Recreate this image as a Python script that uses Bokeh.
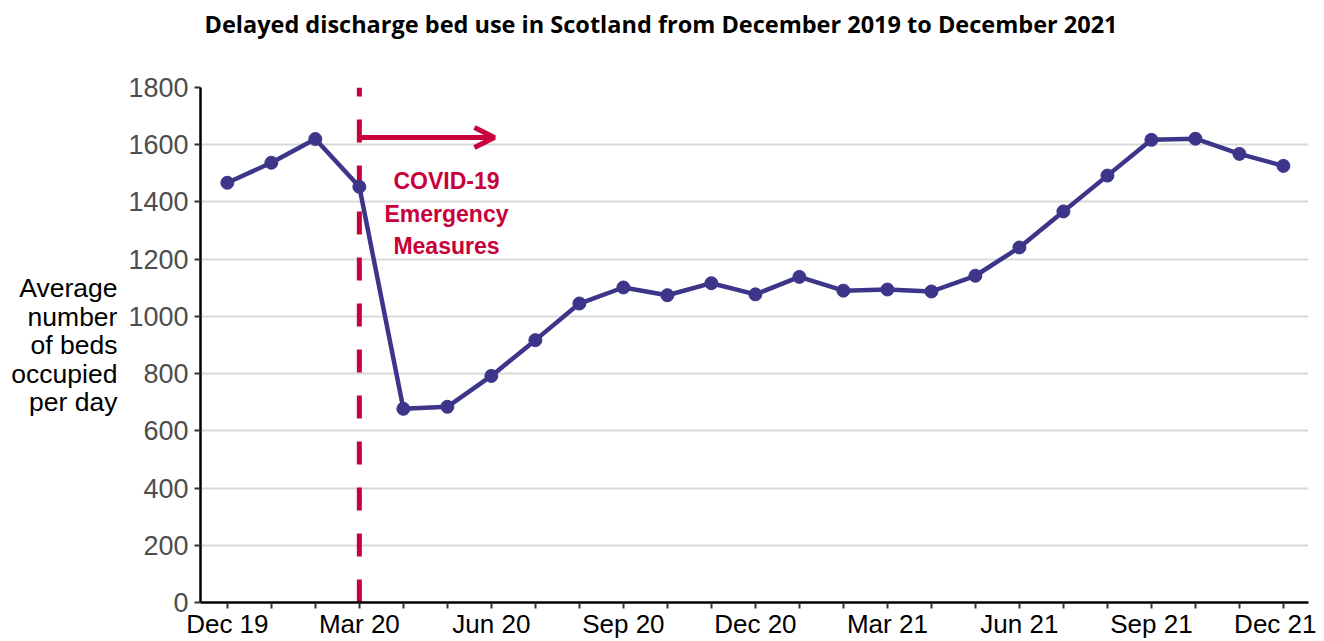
from bokeh.plotting import figure
from bokeh.models import FixedTicker, Arrow, OpenHead, Range1d, Title
from bokeh.core.properties import value
from bokeh.embed import file_html
from bokeh.resources import INLINE

months = ["Dec 19", "Jan 20", "Feb 20", "Mar 20", "Apr 20", "May 20", "Jun 20", "Jul 20",
          "Aug 20", "Sep 20", "Oct 20", "Nov 20", "Dec 20", "Jan 21", "Feb 21", "Mar 21",
          "Apr 21", "May 21", "Jun 21", "Jul 21", "Aug 21", "Sep 21", "Oct 21", "Nov 21", "Dec 21"]
beds = [1467, 1537, 1620, 1453, 677, 684, 792, 917, 1045, 1101, 1074, 1116, 1077, 1138,
        1090, 1094, 1087, 1142, 1241, 1367, 1492, 1617, 1621, 1568, 1526]
label_every = 3
event_index = 3  # Mar 20
event_lines = ["COVID-19", "Emergency", "Measures"]
event_text_y = [1472, 1357, 1245]
event_arrow_level = 1625
title_text = "Delayed discharge bed use in Scotland from December 2019 to December 2021"
ylabel_text = "Average\nnumber\nof beds\noccupied\nper day"

RED = "#C8003C"
PURPLE = "#3D3589"

x = list(range(len(months)))

p = figure(width=1316, height=641, output_backend="svg", toolbar_location=None,
           x_range=Range1d(-0.61, 24.57), y_range=Range1d(0, 1800),
           min_border_left=200, min_border_right=8, min_border_top=87, min_border_bottom=38)
p.outline_line_color = None
p.background_fill_color = "white"
p.title.text = ""

# spacer between title and plot area, then the title itself
p.add_layout(Title(text=" ", text_font_size="28px", standoff=10), "above")
p.add_layout(Title(text=title_text, text_font="Open Sans", text_font_style="bold",
                   text_font_size="23.5px", align="left", offset=4, standoff=10,
                   text_color="black"), "above")

# grid
p.xgrid.grid_line_color = None
p.ygrid.grid_line_color = "#D9D9D9"
p.ygrid.grid_line_width = 2
p.ygrid.ticker = FixedTicker(ticks=list(range(0, 1801, 200)))

# event dashed line
p.line([event_index, event_index], [0, 1800], line_color=RED, line_width=5, line_dash="23 23")

# data line
p.line(x, beds, line_color=PURPLE, line_width=4.5)
p.scatter(x, beds, size=13, fill_color=PURPLE, line_color=PURPLE)

# arrow
p.add_layout(Arrow(end=OpenHead(size=20, line_color=RED, line_width=5),
                   x_start=event_index, y_start=event_arrow_level,
                   x_end=event_index + 3.07, y_end=event_arrow_level,
                   line_color=RED, line_width=5))
p.text(x=[event_index + 1.98] * len(event_lines), y=event_text_y, text=event_lines,
       text_font=value("Liberation Sans"), text_font_style="bold", text_font_size="23px",
       text_color=RED, text_align="center", text_baseline="middle")

# axes
ax = p.xaxis[0]
ax.ticker = FixedTicker(ticks=x)
ax.major_label_overrides = {i: (m if i % label_every == 0 else "") for i, m in enumerate(months)}
ax.axis_line_color = "black"
ax.axis_line_width = 2.5
ax.major_tick_in = 0
ax.major_tick_out = 6
ax.major_tick_line_color = "#333333"
ax.major_tick_line_width = 2
ax.minor_tick_line_color = None
ax.major_label_text_font = "Liberation Sans"
ax.major_label_text_font_size = "26px"
ax.major_label_text_color = "black"
ax.major_label_standoff = 0

ay = p.yaxis[0]
ay.ticker = FixedTicker(ticks=list(range(0, 1801, 200)))
ay.axis_line_color = "black"
ay.axis_line_width = 2.5
ay.major_tick_in = 0
ay.major_tick_out = 6
ay.major_tick_line_color = "#333333"
ay.major_tick_line_width = 2
ay.minor_tick_line_color = None
ay.major_label_text_font = "Liberation Sans"
ay.major_label_text_font_size = "27px"
ay.major_label_text_color = "#4D4D4D"
ay.major_label_standoff = 6
ay.axis_label = ylabel_text
ay.axis_label_orientation = "horizontal"
ay.axis_label_text_font = "Liberation Sans"
ay.axis_label_text_font_size = "26.5px"
ay.axis_label_text_font_style = "normal"
ay.axis_label_text_color = "black"
ay.axis_label_text_align = "center"
ay.axis_label_text_line_height = 0.95
ay.axis_label_standoff = 8

open("out.html", "w").write(file_html(p, INLINE))
